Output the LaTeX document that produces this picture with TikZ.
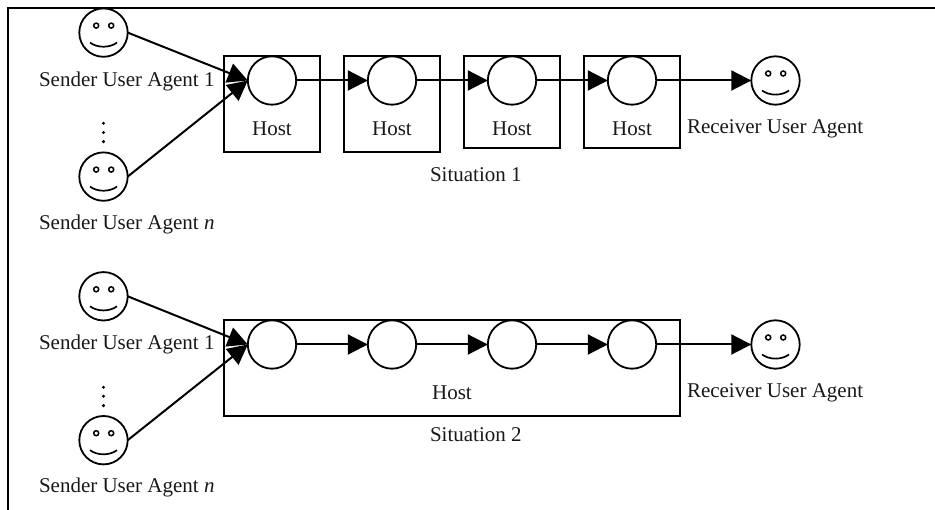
\documentclass[tikz,border=0pt]{standalone}
\usepackage{fontspec}
\setmainfont{Liberation Serif}
\usetikzlibrary{arrows.meta}
\tikzset{
  hostbox/.style={draw,line width=2pt,anchor=north west,inner sep=0pt,outer sep=0pt},
  stage/.style={circle,draw,line width=1.8pt,fill=white,minimum size=48.4pt,inner sep=0pt,outer sep=0pt},
  agent/.style={circle,draw,line width=1.8pt,minimum size=48.4pt,inner sep=0pt,outer sep=0pt,
    path picture={
      \draw[line width=1.5pt] ([shift={(-7.3,-7)}]path picture bounding box.center) circle (2.5pt);
      \draw[line width=1.5pt] ([shift={(7.7,-7)}]path picture bounding box.center) circle (2.5pt);
      \draw[line width=1.7pt] ([shift={(-13.5,10)}]path picture bounding box.center)
        .. controls ([shift={(-6,15.5)}]path picture bounding box.center) and ([shift={(6,15.5)}]path picture bounding box.center)
        .. ([shift={(13.5,10)}]path picture bounding box.center);
    }},
  lbl/.style={inner sep=0pt,outer sep=0pt,font=\fontsize{21}{24}\selectfont,text=black!90},
  flow/.style={line width=2pt,-{Triangle[length=20pt,width=20pt]}},
  frameline/.style={line width=2pt},
  elipsisdot/.style={circle,fill=black,inner sep=0pt,minimum size=3.4pt},
}
\begin{document}
\begin{tikzpicture}[x=1pt,y=-1pt]
\useasboundingbox (0,0) rectangle (935,510);
\fill[white] (0,0) rectangle (935,510);
\draw[frameline] (8,510) -- (8,8.3) -- (935,8.3);

% Situation 1
\node[hostbox,minimum width=96pt,minimum height=96pt] (b1) at (224,56.5) {};
\node[hostbox,minimum width=96pt,minimum height=96pt] (b2) at (344,56.5) {};
\node[hostbox,minimum width=96pt,minimum height=92pt] (b3) at (464,56.5) {};
\node[hostbox,minimum width=96pt,minimum height=92pt] (b4) at (584,56.5) {};
\node[stage] (c1) at (272,80.5) {};
\node[stage] (c2) at (392,80.5) {};
\node[stage] (c3) at (512,80.5) {};
\node[stage] (c4) at (632,80.5) {};
\node[agent] (s1) at (103.5,32.6) {};
\node[agent] (sn) at (103.5,176.6) {};
\node[agent] (r) at (775.5,80.5) {};
\draw[flow] (s1.east) -- (c1.west);
\draw[flow] (sn.east) -- (c1.west);
\draw[flow] (c1.east) -- (c2.west);
\draw[flow] (c2.east) -- (c3.west);
\draw[flow] (c3.east) -- (c4.west);
\draw[flow] (c4.east) -- (r.west);
\node[lbl,anchor=base west] (ts1) at (39,87) {Sender User Agent 1};
\node[lbl,anchor=base west] (tsn) at (39,230) {Sender User Agent \textit{n}};
\node[lbl,anchor=base] (h1) at (272,136) {Host};
\node[lbl,anchor=base] (h2) at (392,136) {Host};
\node[lbl,anchor=base] (h3) at (512,136) {Host};
\node[lbl,anchor=base] (h4) at (632,136) {Host};
\node[lbl,anchor=base west] (tr) at (687,134) {Receiver User Agent};
\node[lbl,anchor=base west] (sit1) at (430,182) {Situation 1};
\node[elipsisdot] (d1a) at (103.5,123.3) {};
\node[elipsisdot] (d1b) at (103.5,132.5) {};
\node[elipsisdot] (d1c) at (103.5,141.7) {};

% Situation 2
\node[hostbox,minimum width=456pt,minimum height=95.4pt] (b5) at (224,320.3) {};
\node[stage] (e1) at (272,344.5) {};
\node[stage] (e2) at (392,344.5) {};
\node[stage] (e3) at (512,344.5) {};
\node[stage] (e4) at (632,344.5) {};
\node[agent] (s2) at (103.5,296.3) {};
\node[agent] (sm) at (103.5,440.2) {};
\node[agent] (q) at (775.5,344.5) {};
\draw[flow] (s2.east) -- (e1.west);
\draw[flow] (sm.east) -- (e1.west);
\draw[flow] (e1.east) -- (e2.west);
\draw[flow] (e2.east) -- (e3.west);
\draw[flow] (e3.east) -- (e4.west);
\draw[flow] (e4.east) -- (q.west);
\node[lbl,anchor=base west] (ts2) at (39,350) {Sender User Agent 1};
\node[lbl,anchor=base west] (tsm) at (39,493) {Sender User Agent \textit{n}};
\node[lbl,anchor=base] (h5) at (452,400) {Host};
\node[lbl,anchor=base west] (tq) at (687,398) {Receiver User Agent};
\node[lbl,anchor=base west] (sit2) at (430,442) {Situation 2};
\node[elipsisdot] (d2a) at (103.5,387.3) {};
\node[elipsisdot] (d2b) at (103.5,396.3) {};
\node[elipsisdot] (d2c) at (103.5,405.7) {};
\end{tikzpicture}
\end{document}
